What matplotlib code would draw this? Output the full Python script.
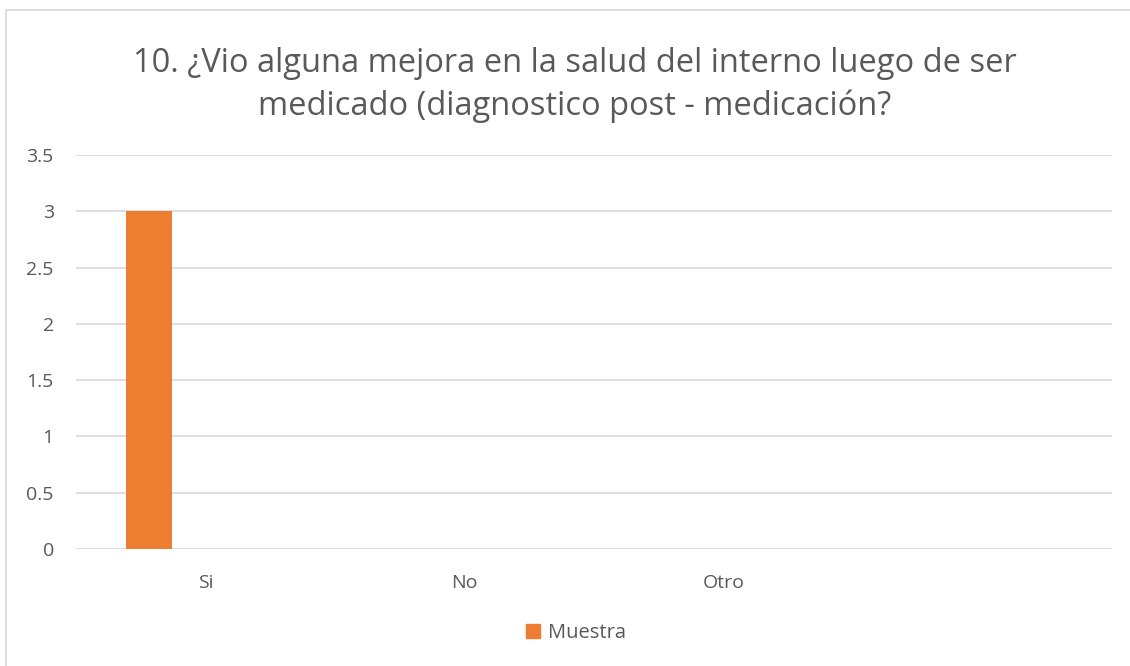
import matplotlib.pyplot as plt
from matplotlib.patches import Rectangle, Patch

categories = ['Si', 'No', 'Otro', '']
muestra = [3, 0, 0, 0]

title = '10. ¿Vio alguna mejora en la salud del interno luego de ser\nmedicado (diagnostico post - medicación?'

plt.rcParams['font.family'] = ['Open Sans', 'DejaVu Sans']
txt = '#595959'

W, H = 1130, 666
fig = plt.figure(figsize=(W / 100, H / 100), dpi=100)

# chart border
fig.patches.append(Rectangle((6 / W, -0.1), 1.2, 1 - 10 / H + 0.1, transform=fig.transFigure,
                             fill=False, edgecolor='#D9D9D9', linewidth=1.2))

ax = fig.add_axes([76 / W, 1 - 549 / H, (1112 - 76) / W, (549 - 155) / H])

x = list(range(len(categories)))
ax.bar([i - 0.218 for i in x], muestra, width=0.178, color='#ED7D31', zorder=3)

ax.set_xlim(-0.5, len(categories) - 0.5)
ax.set_ylim(0, 3.5)
ax.set_yticks([0, 0.5, 1, 1.5, 2, 2.5, 3, 3.5])
ax.set_yticklabels(['0', '0.5', '1', '1.5', '2', '2.5', '3', '3.5'])
ax.set_xticks(x)
ax.set_xticklabels(categories)
ax.grid(axis='y', color='#D9D9D9', linewidth=1.2, zorder=0)
for s in ax.spines.values():
    s.set_visible(False)
ax.tick_params(length=0, labelsize=14, colors=txt)
ax.tick_params(axis='y', pad=16)
ax.tick_params(axis='x', pad=18)

fig.text(575 / W, 1 - 85 / H, title, ha='center', va='center', fontsize=23.5, color=txt,
         linespacing=1.4)

fig.legend(handles=[Patch(color='#ED7D31', label='Muestra')], loc='center',
           bbox_to_anchor=(576 / W, 1 - 633 / H), frameon=False, fontsize=14.5,
           labelcolor=txt, handlelength=0.7, handleheight=0.7, handletextpad=0.4)

fig.savefig('out.png', dpi=100)
